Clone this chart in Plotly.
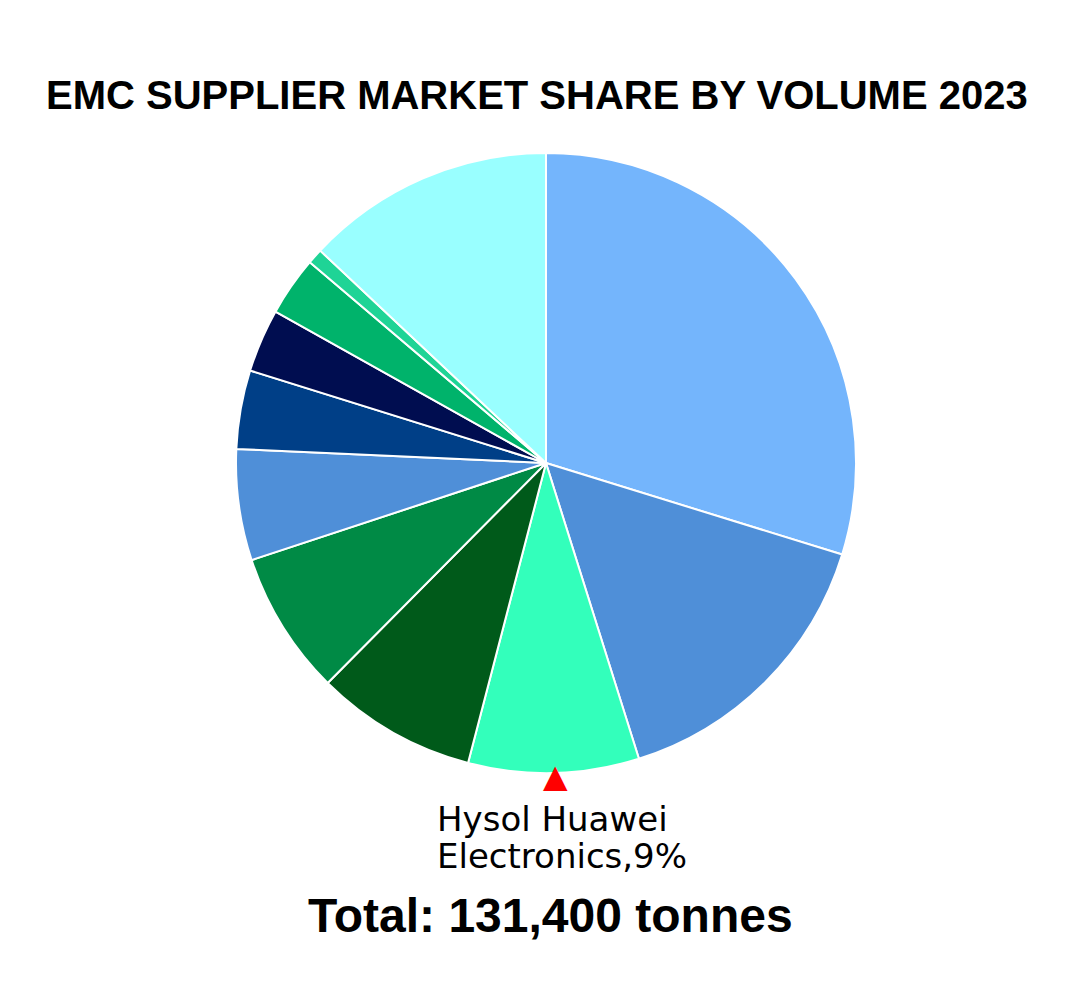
import plotly.graph_objects as go

suppliers = ["Supplier A", "Supplier B", "Hysol Huawei Electronics", "Supplier D",
             "Supplier E", "Supplier F", "Supplier G", "Supplier H", "Supplier I",
             "Supplier J", "Others"]
shares = [29.8, 15.4, 8.9, 8.4, 7.5, 5.8, 4.1, 3.3, 3.1, 0.8, 13.0]
colors = ["#74b5fc", "#4f8fd8", "#33ffbb", "#005a1a", "#008a45", "#4f8fd8",
          "#003f87", "#000d50", "#00b36b", "#1fd496", "#99ffff"]

title_text = "EMC SUPPLIER MARKET SHARE BY VOLUME 2023"
label_lines = ["Hysol Huawei", "Electronics,9%"]
total_text = "Total: 131,400 tonnes"

W, H = 1080, 991
OFF = 8  # page offset


def px(x):
    return (x - OFF) / W


def py(y):
    return 1 - (y - OFF) / H


cx, cy, r = 546, 463, 310

fig = go.Figure(go.Pie(
    labels=suppliers, values=shares,
    marker=dict(colors=colors, line=dict(color="white", width=2)),
    sort=False, direction="clockwise", rotation=0, textinfo="none", showlegend=False,
    domain=dict(x=[px(cx - r), px(cx + r)], y=[py(cy + r), py(cy - r)]),
))

fig.update_layout(
    width=W, height=H, margin=dict(l=0, r=0, t=0, b=0),
    paper_bgcolor="white", plot_bgcolor="white",
    annotations=[
        dict(text="<b>" + title_text + "</b>", x=px(537), y=py(95), xref="paper", yref="paper",
             showarrow=False, font=dict(family="Liberation Sans", size=40, color="black"),
             xanchor="center", yanchor="middle"),
        dict(text="▲", x=px(555), y=py(776), xref="paper", yref="paper",
             showarrow=False, font=dict(family="DejaVu Sans", size=32, color="red"),
             xanchor="center", yanchor="middle"),
        dict(text=label_lines[0], x=px(435), y=py(819), xref="paper", yref="paper",
             showarrow=False, font=dict(family="DejaVu Sans", size=34, color="black"),
             xanchor="left", yanchor="middle"),
        dict(text=label_lines[1], x=px(435), y=py(856), xref="paper", yref="paper",
             showarrow=False, font=dict(family="DejaVu Sans", size=34, color="black"),
             xanchor="left", yanchor="middle"),
        dict(text="<b>" + total_text + "</b>", x=px(550), y=py(915), xref="paper", yref="paper",
             showarrow=False, font=dict(family="Liberation Sans", size=48, color="black"),
             xanchor="center", yanchor="middle"),
    ],
)

fig.write_html("out.html")
